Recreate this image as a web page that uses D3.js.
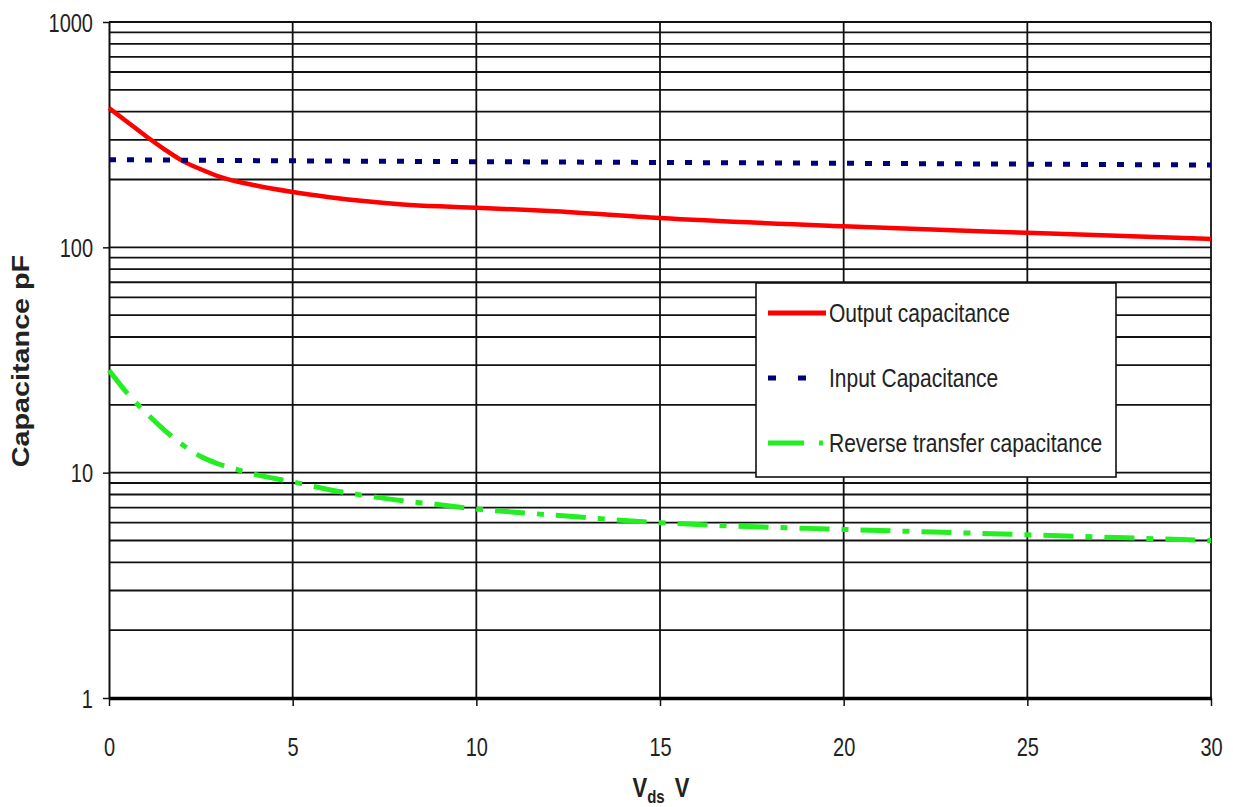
<!DOCTYPE html>
<html>
<head>
<meta charset="utf-8">
<script src="https://cdn.jsdelivr.net/npm/d3@7"></script>
<style>
  html, body { margin: 0; padding: 0; background: #fff; }
  svg { display: block; font-family: "Liberation Sans", Arial, sans-serif; }
</style>
</head>
<body>
<svg id="chart" width="1233" height="807"></svg>
<script>
// ---- Data ----
const outputV   = [0, 0.5, 1, 1.5, 2, 2.5, 3, 4, 5, 6, 7, 8, 9, 10, 12, 15, 20, 25, 30];
const outputC   = [415, 360, 312, 273, 242, 222, 206, 188, 176, 167, 160, 155, 152, 150, 145, 135, 124, 116, 109];

const inputV    = [0, 5, 10, 15, 20, 25, 30];
const inputC    = [245, 242, 240, 238, 236, 234, 232];

const reverseV  = [0, 0.5, 1, 1.5, 2, 2.5, 3, 3.5, 4, 5, 6, 7, 8, 9, 10, 12, 15, 17, 20, 25, 30];
const reverseC  = [28.5, 22.5, 18.5, 15.5, 13.3, 11.8, 10.9, 10.3, 9.8, 9.1, 8.4, 7.9, 7.5, 7.2, 6.9, 6.5, 6.0, 5.8, 5.6, 5.3, 5.0];

const xTicks = [0, 5, 10, 15, 20, 25, 30];
const yTicks = [1, 10, 100, 1000];
const seriesNames = ["Output capacitance", "Input Capacitance", "Reverse transfer capacitance"];

// ---- Layout ----
const svg = d3.select("#chart");
const L = 109, R = 1211, T = 22, B = 698;
const x = d3.scaleLinear().domain([0, 30]).range([L, R]);
const y = d3.scaleLog().domain([1, 1000]).range([B, T]);
const SY = 1.25; // vertical text stretch of the reference

// minor horizontal gridlines
const hGrid = [];
[1, 10, 100].forEach(d => { for (let k = 1; k <= 9; k++) hGrid.push(d * k); });
hGrid.push(1000);

svg.append("g").selectAll("line").data(hGrid.filter(v => v > 1)).join("line")
  .attr("x1", L).attr("x2", R)
  .attr("y1", d => y(d)).attr("y2", d => y(d))
  .attr("stroke", "#111").attr("stroke-width", 1.8);

svg.append("g").selectAll("line").data(xTicks.filter(v => v > 0)).join("line")
  .attr("x1", d => x(d)).attr("x2", d => x(d))
  .attr("y1", T).attr("y2", B)
  .attr("stroke", "#111").attr("stroke-width", 1.8);

// axes
const yAxis = svg.append("g").attr("transform", `translate(${L},0)`)
  .call(d3.axisLeft(y).tickValues(yTicks).tickSize(6).tickSizeOuter(0).tickFormat(d3.format("d")));
yAxis.select(".domain").attr("stroke", "#111").attr("stroke-width", 2);
yAxis.selectAll(".tick line").attr("stroke", "#111").attr("stroke-width", 1.5);
yAxis.selectAll(".tick text")
  .attr("x", null).attr("dy", null).attr("y", null)
  .attr("transform", `translate(-16,0) scale(1,${SY})`)
  .attr("dy", "0.36em")
  .attr("text-anchor", "end")
  .attr("font-size", 20).attr("fill", "#222")
  .attr("font-family", "Liberation Sans, Arial, sans-serif");

const xAxis = svg.append("g").attr("transform", `translate(0,${B})`)
  .call(d3.axisBottom(x).tickValues(xTicks).tickSize(8).tickSizeOuter(0));
xAxis.select(".domain").attr("stroke", "#000").attr("stroke-width", 3.5);
xAxis.selectAll(".tick line").attr("stroke", "#111").attr("stroke-width", 1.5);
xAxis.selectAll(".tick text")
  .attr("y", null).attr("dy", null)
  .attr("transform", `translate(0,58) scale(1,${SY})`)
  .attr("text-anchor", "middle")
  .attr("font-size", 20).attr("fill", "#222")
  .attr("font-family", "Liberation Sans, Arial, sans-serif");

// series
const line = d3.line().curve(d3.curveMonotoneX).x(d => x(d[0])).y(d => y(d[1]));

const styles = [
  { color: "#ff0000", width: 4.5, dash: null },
  { color: "#00007a", width: 5, dash: "7,11" },
  { color: "#22ee22", width: 5, dash: "30,12,7,12" }
];
const series = [
  d3.zip(outputV, outputC),
  d3.zip(inputV, inputC),
  d3.zip(reverseV, reverseC)
];

const gSeries = svg.append("g");
series.forEach((s, i) => {
  gSeries.append("path").datum(s)
    .attr("d", line)
    .attr("fill", "none")
    .attr("stroke", styles[i].color)
    .attr("stroke-width", styles[i].width)
    .attr("stroke-dasharray", styles[i].dash);
});

// legend
const lg = svg.append("g");
lg.append("rect").attr("x", 756).attr("y", 283).attr("width", 360).attr("height", 194)
  .attr("fill", "#fff").attr("stroke", "#111").attr("stroke-width", 1.6);
const legY = [313, 378, 443];
const legDash = [null, "8,22", "36,15,4,100"];
seriesNames.forEach((name, i) => {
  lg.append("line").attr("x1", 768).attr("x2", i === 0 ? 826 : (i === 1 ? 806 : 826))
    .attr("y1", legY[i]).attr("y2", legY[i])
    .attr("stroke", styles[i].color).attr("stroke-width", 5)
    .attr("stroke-dasharray", legDash[i]);
  lg.append("text")
    .attr("transform", `translate(829,${legY[i]}) scale(1,${SY})`)
    .attr("dy", "0.36em")
    .attr("font-size", 21).attr("fill", "#222")
    .text(name);
});

// axis titles
svg.append("text")
  .attr("transform", `translate(29,361) rotate(-90) scale(${SY},1)`)
  .attr("text-anchor", "middle")
  .attr("font-size", 23).attr("font-weight", "bold").attr("fill", "#222")
  .text("Capacitance pF");

const xt = svg.append("text")
  .attr("transform", `translate(661,797) scale(1,${SY})`)
  .attr("text-anchor", "middle")
  .attr("font-size", 22).attr("font-weight", "bold").attr("fill", "#222");
xt.append("tspan").text("V");
xt.append("tspan").attr("font-size", 15).attr("dy", 5).text("ds");
xt.append("tspan").attr("dy", -5).attr("dx", 4).text("\u00a0V");
</script>
</body>
</html>
